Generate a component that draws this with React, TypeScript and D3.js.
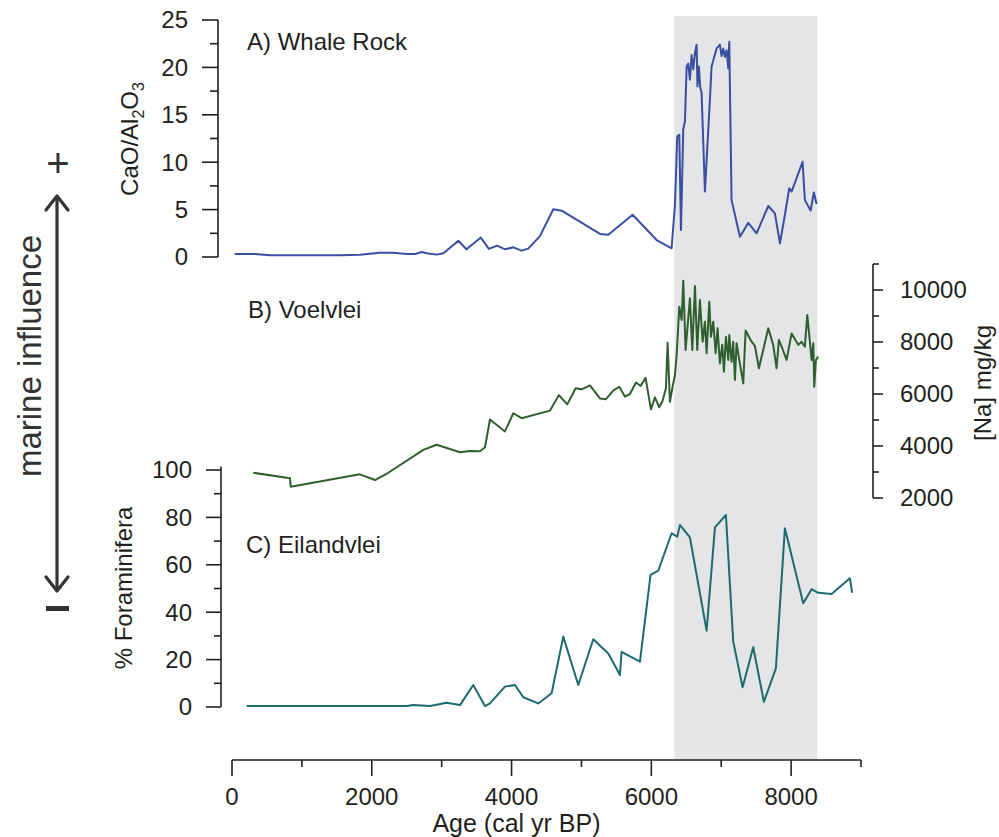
import React from 'react';
import * as d3 from 'd3';

// ---- data ----
const ageMajorTicks = [0, 2000, 4000, 6000, 8000];
const ageMinorTicks = [1000, 3000, 5000, 7000, 9000];
const caoTicks = [0, 5, 10, 15, 20, 25];
const caoMinorTicks = [2.5, 7.5, 12.5, 17.5, 22.5];
const naTicks = [2000, 4000, 6000, 8000, 10000];
const naMinorTicks = [3000, 5000, 7000, 9000, 11000];
const foramTicks = [0, 20, 40, 60, 80, 100];
const foramMinorTicks = [10, 30, 50, 70, 90];
const shadedAges = [6330, 8375];

const whaleRock: [number, number][] = [
  [40, 0.32], [330, 0.32], [545, 0.18], [1545, 0.18], [1830, 0.25], [2115, 0.46], [2310, 0.46],
  [2500, 0.32], [2620, 0.32], [2715, 0.53], [2785, 0.39], [2930, 0.25], [3025, 0.39], [3240, 1.72],
  [3355, 0.81], [3560, 2.05], [3675, 0.85], [3795, 1.2], [3906, 0.81], [4025, 1.02], [4144, 0.67],
  [4239, 0.88], [4406, 2.2], [4597, 5.03], [4717, 4.89], [5265, 2.43], [5384, 2.35], [5732, 4.46],
  [6076, 1.79], [6290, 0.92], [6338, 5.5], [6371, 12.7], [6400, 12.9], [6424, 2.85], [6457, 13.5],
  [6481, 14.3], [6505, 20.1], [6528, 20.4], [6552, 18.7], [6576, 21.3], [6600, 19.8], [6624, 21.5],
  [6648, 22.4], [6660, 18.0], [6680, 20.1], [6700, 17.9], [6719, 17.3], [6767, 6.9], [6838, 16.6],
  [6862, 20.1], [6934, 22.0], [6981, 22.4], [7005, 21.2], [7029, 22.0], [7053, 21.1], [7077, 21.8],
  [7101, 19.9], [7115, 22.7], [7148, 6.0], [7268, 2.14], [7387, 3.6], [7506, 2.5], [7673, 5.38],
  [7768, 4.6], [7840, 1.45], [7911, 4.43], [7973, 7.25], [8007, 6.9], [8164, 10.05], [8197, 6.0],
  [8279, 4.9], [8326, 6.8], [8364, 5.6],
];

const voelvlei: [number, number][] = [
  [305, 2970], [830, 2760], [840, 2435], [1830, 2910], [2046, 2690], [2236, 2970], [2737, 3850],
  [2928, 4050], [3262, 3760], [3405, 3810], [3548, 3800], [3620, 3950], [3691, 5020], [3906, 4560],
  [4025, 5260], [4144, 5070], [4549, 5360], [4678, 5960], [4797, 5600], [4917, 6220], [5003, 6180],
  [5122, 6330], [5265, 5830], [5351, 5800], [5455, 6130], [5541, 6280], [5622, 5900], [5694, 6000],
  [5780, 6440], [5847, 6310], [5918, 6620], [5994, 5410], [6052, 5870], [6113, 5490], [6161, 5740],
  [6209, 6220], [6233, 7970], [6266, 5700], [6304, 6280], [6338, 6730], [6362, 7500], [6400, 9360],
  [6434, 8850], [6457, 10360], [6490, 7690], [6552, 9680], [6586, 7690], [6624, 10150], [6657, 7690],
  [6695, 9620], [6734, 8010], [6767, 8780], [6791, 7570], [6829, 9550], [6853, 8200], [6886, 8780],
  [6920, 7570], [6948, 8530], [6981, 7180], [7015, 7890], [7039, 6860], [7067, 8200], [7101, 7310],
  [7115, 8270], [7148, 7240], [7172, 8010], [7196, 6540], [7220, 7950], [7258, 7310], [7315, 6410],
  [7349, 8440], [7434, 8010], [7482, 7850], [7539, 6990], [7601, 7690], [7673, 8530], [7744, 7890],
  [7792, 6990], [7825, 8080], [7873, 7760], [7935, 7310], [8007, 8330], [8102, 7890], [8150, 8010],
  [8197, 7820], [8231, 9040], [8269, 8010], [8293, 7310], [8317, 7950], [8331, 6280], [8355, 7310],
  [8388, 7440],
];

const eilandvlei: [number, number][] = [
  [210, 0.4], [2499, 0.4], [2594, 0.8], [2833, 0.4], [3071, 1.8], [3262, 0.8], [3452, 9.3],
  [3620, 0.4], [3691, 1.5], [3906, 8.6], [4049, 9.3], [4168, 4.1], [4382, 1.5], [4573, 5.8],
  [4740, 29.7], [4955, 9.3], [5169, 28.6], [5384, 22.6], [5551, 13.5], [5575, 23.3], [5837, 19.1],
  [5989, 55.7], [6099, 57.5], [6290, 73.3], [6371, 71.9], [6409, 76.8], [6552, 71.6], [6791, 32.2],
  [6910, 75.8], [7067, 81.0], [7172, 27.6], [7306, 8.3], [7458, 25.2], [7611, 2.2], [7782, 16.3],
  [7911, 75.4], [8173, 43.8], [8293, 49.7], [8388, 48.2], [8579, 47.7], [8841, 54.3], [8874, 48.2],
];

const FONT = '"Liberation Sans", Arial, Helvetica, sans-serif';
const INK = '#231f20';

export default function App() {
  const x = d3.scaleLinear().domain([0, 9000]).range([232, 861]);
  const yA = d3.scaleLinear().domain([0, 25]).range([257, 20]);
  const yB = d3.scaleLinear().domain([2000, 10000]).range([498, 290]);
  const yC = d3.scaleLinear().domain([0, 100]).range([707, 470]);

  const axisY = 760;
  const axisAx = 218;
  const axisBx = 873;
  const axisCx = 221;

  const lineA = d3.line<[number, number]>().x((d) => x(d[0])).y((d) => yA(d[1]));
  const lineB = d3.line<[number, number]>().x((d) => x(d[0])).y((d) => yB(d[1]));
  const lineC = d3.line<[number, number]>().x((d) => x(d[0])).y((d) => yC(d[1]));

  return (
    <svg
      width={999}
      height={837}
      style={{ position: 'absolute', left: 0, top: 0, background: '#fff' }}
      fontFamily={FONT}
    >
      <rect x={0} y={0} width={999} height={837} fill="#fff" />
      {/* shaded interval */}
      <rect
        x={x(shadedAges[0])}
        y={16}
        width={x(shadedAges[1]) - x(shadedAges[0])}
        height={axisY - 16}
        fill="#e3e5e7"
      />

      {/* Panel A axis */}
      <g stroke={INK} strokeWidth={1.6}>
        <line x1={axisAx} x2={axisAx} y1={yA(25)} y2={yA(0)} />
        {caoTicks.map((t) => (
          <line key={'am' + t} x1={axisAx - 16} x2={axisAx} y1={yA(t)} y2={yA(t)} />
        ))}
        {caoMinorTicks.map((t) => (
          <line key={'an' + t} x1={axisAx - 8} x2={axisAx} y1={yA(t)} y2={yA(t)} />
        ))}
      </g>
      {caoTicks.map((t) => (
        <text key={'al' + t} x={188} y={yA(t)} dy="0.35em" textAnchor="end" fontSize={24} fill={INK}>
          {t}
        </text>
      ))}
      <text transform={`translate(138,139) rotate(-90)`} textAnchor="middle" fontSize={24} fill={INK}>
        CaO/Al<tspan fontSize={16} dy={6}>2</tspan>
        <tspan dy={-6}>O</tspan>
        <tspan fontSize={16} dy={6}>3</tspan>
      </text>

      {/* Panel B axis (right) */}
      <g stroke={INK} strokeWidth={1.6}>
        <line x1={axisBx} x2={axisBx} y1={yB(11000)} y2={yB(2000)} />
        {naTicks.map((t) => (
          <line key={'bm' + t} x1={axisBx} x2={axisBx + 10} y1={yB(t)} y2={yB(t)} />
        ))}
        {naMinorTicks.map((t) => (
          <line key={'bn' + t} x1={axisBx} x2={axisBx + 6} y1={yB(t)} y2={yB(t)} />
        ))}
      </g>
      {naTicks.map((t) => (
        <text key={'bl' + t} x={900} y={yB(t)} dy="0.35em" textAnchor="start" fontSize={24} fill={INK}>
          {t}
        </text>
      ))}
      <text transform={`translate(991,383) rotate(-90)`} textAnchor="middle" fontSize={24} fill={INK}>
        [Na] mg/kg
      </text>

      {/* Panel C axis */}
      <g stroke={INK} strokeWidth={1.6}>
        <line x1={axisCx} x2={axisCx} y1={yC(101.5)} y2={yC(0)} />
        {foramTicks.map((t) => (
          <line key={'cm' + t} x1={axisCx - 15} x2={axisCx} y1={yC(t)} y2={yC(t)} />
        ))}
        {foramMinorTicks.map((t) => (
          <line key={'cn' + t} x1={axisCx - 7} x2={axisCx} y1={yC(t)} y2={yC(t)} />
        ))}
      </g>
      {foramTicks.map((t) => (
        <text key={'cl' + t} x={192} y={yC(t)} dy="0.35em" textAnchor="end" fontSize={24} fill={INK}>
          {t}
        </text>
      ))}
      <text transform={`translate(132,588) rotate(-90)`} textAnchor="middle" fontSize={24} fill={INK}>
        % Foraminifera
      </text>

      {/* X axis */}
      <g stroke={INK} strokeWidth={1.6}>
        <line x1={x(0)} x2={x(9000)} y1={axisY} y2={axisY} />
        {ageMajorTicks.map((t) => (
          <line key={'xm' + t} x1={x(t)} x2={x(t)} y1={axisY} y2={axisY + 16} />
        ))}
        {ageMinorTicks.map((t) => (
          <line key={'xn' + t} x1={x(t)} x2={x(t)} y1={axisY} y2={axisY + 7} />
        ))}
      </g>
      {ageMajorTicks.map((t) => (
        <text key={'xl' + t} x={x(t)} y={805} textAnchor="middle" fontSize={24} fill={INK}>
          {t}
        </text>
      ))}
      <text x={x(4500) - 30} y={832} textAnchor="middle" fontSize={25} fill={INK}>
        Age (cal yr BP)
      </text>

      {/* series */}
      <path d={lineA(whaleRock) || ''} fill="none" stroke="#3a4ea2" strokeWidth={2} strokeLinejoin="round" />
      <path d={lineB(voelvlei) || ''} fill="none" stroke="#2f5f2f" strokeWidth={2} strokeLinejoin="round" />
      <path d={lineC(eilandvlei) || ''} fill="none" stroke="#1d6a70" strokeWidth={2} strokeLinejoin="round" />

      {/* panel labels */}
      <text x={247} y={50} fontSize={24} fill={INK}>A) Whale Rock</text>
      <text x={248} y={318} fontSize={24} fill={INK}>B) Voelvlei</text>
      <text x={246} y={553} fontSize={24} fill={INK}>C) Eilandvlei</text>

      {/* marine influence arrow */}
      <g stroke="#333" strokeWidth={3.2} fill="none" strokeLinecap="round" strokeLinejoin="round">
        <line x1={57} x2={57} y1={197} y2={590} />
        <polyline points="46,210 57,196 68,210" />
        <polyline points="46,577 57,591 68,577" />
      </g>
      <text x={58} y={177} textAnchor="middle" fontSize={40} fill="#333">+</text>
      <rect x={46} y={606} width={23} height={5} fill="#333" />
      <text transform={`translate(41,356) rotate(-90)`} textAnchor="middle" fontSize={33} fill="#333">
        marine influence
      </text>
    </svg>
  );
}
